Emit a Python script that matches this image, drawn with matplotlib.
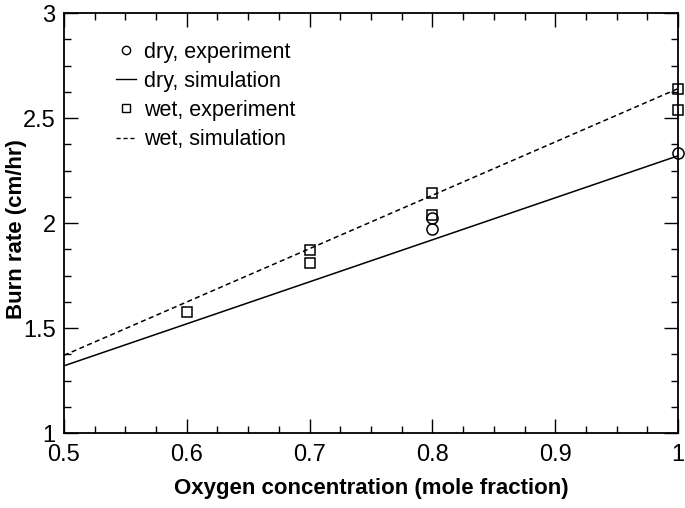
import matplotlib
matplotlib.use("Agg")
import matplotlib.pyplot as plt
from matplotlib.ticker import MultipleLocator
from matplotlib.lines import Line2D

plt.rcParams['font.family'] = ['Liberation Sans', 'DejaVu Sans']

dry_exp_x = [0.8, 0.8, 1.0]
dry_exp_y = [1.972, 2.025, 2.335]
wet_exp_x = [0.6, 0.7, 0.7, 0.8, 0.8, 1.0, 1.0]
wet_exp_y = [1.575, 1.87, 1.81, 2.143, 2.038, 2.64, 2.54]
dry_sim_x = [0.5, 1.0]
dry_sim_y = [1.32, 2.32]
wet_sim_x = [0.5, 1.0]
wet_sim_y = [1.37, 2.64]

fig = plt.figure(figsize=(6.85, 5.08), dpi=100)
ax = fig.add_axes([0.0934, 0.1476, 0.8964, 0.8268])

ax.plot(dry_sim_x, dry_sim_y, color='black', lw=1.1, ls='-')
ax.plot(wet_sim_x, wet_sim_y, color='black', lw=1.1, ls=(0, (3.3, 2.2)))
ax.plot(dry_exp_x, dry_exp_y, ls='none', marker='o', ms=8, mfc='none', mec='black', mew=1.1, clip_on=False)
ax.plot(wet_exp_x, wet_exp_y, ls='none', marker='s', ms=7, mfc='none', mec='black', mew=1.1, clip_on=False)

ax.set_xlim(0.5, 1.0)
ax.set_ylim(1.0, 3.0)
ax.xaxis.set_major_locator(MultipleLocator(0.1))
ax.xaxis.set_minor_locator(MultipleLocator(0.025))
ax.yaxis.set_major_locator(MultipleLocator(0.5))
ax.yaxis.set_minor_locator(MultipleLocator(0.125))

def fmt(v, pos):
    return f"{v:.2f}".rstrip('0').rstrip('.')
ax.xaxis.set_major_formatter(plt.FuncFormatter(fmt))
ax.yaxis.set_major_formatter(plt.FuncFormatter(fmt))

ax.tick_params(which='both', direction='in', top=True, right=True, labelsize=17)
ax.tick_params(axis='x', pad=8)
ax.tick_params(axis='y', pad=6)
ax.tick_params(which='major', length=10, width=1)
ax.tick_params(which='minor', length=5, width=1)
for s in ax.spines.values():
    s.set_linewidth(1.3)

ax.set_xlabel('Oxygen concentration (mole fraction)', fontsize=16, fontweight='bold', va='top')
ax.xaxis.set_label_coords(0.5, -0.107)
ax.set_ylabel('Burn rate (cm/hr)', fontsize=16, fontweight='bold')
ax.yaxis.set_label_coords(-0.06, 0.486)

handles = [
    Line2D([], [], ls='none', marker='o', ms=6, mfc='none', mec='black', mew=1),
    Line2D([], [], color='black', lw=1),
    Line2D([], [], ls='none', marker='s', ms=6, mfc='none', mec='black', mew=1),
    Line2D([], [], color='black', lw=1, ls=(0, (3, 2))),
]
labels = ['dry, experiment', 'dry, simulation', 'wet, experiment', 'wet, simulation']
ax.legend(handles, labels, loc='upper left', bbox_to_anchor=(0.085, 0.932), frameon=False,
          fontsize=15.5, handlelength=0.9, handletextpad=0.4, labelspacing=0.38,
          borderpad=0, borderaxespad=0)

fig.savefig('out.png', dpi=100)
